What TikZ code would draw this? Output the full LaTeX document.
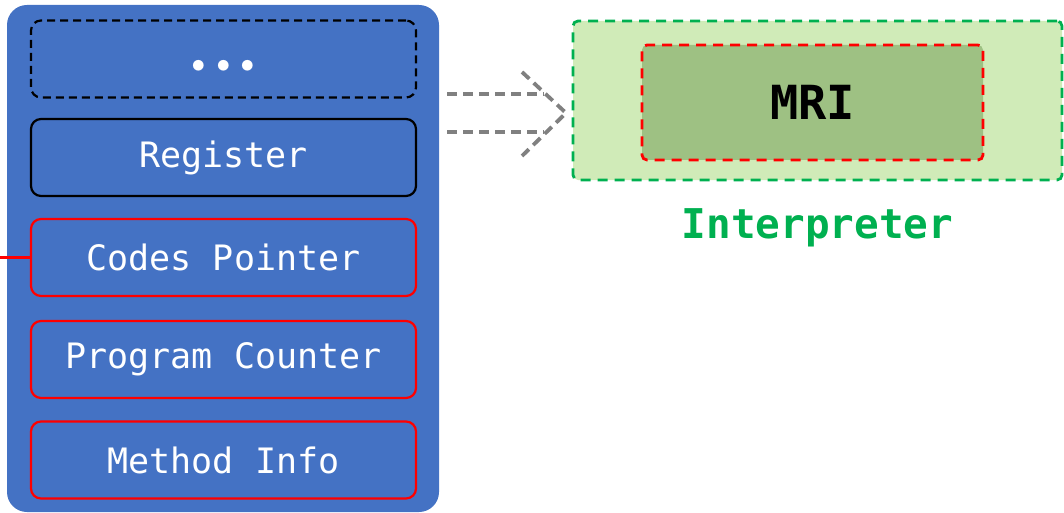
\documentclass[tikz,border=0pt]{standalone}
\usepackage{fontspec}
\setmonofont{DejaVu Sans Mono}
\usepackage{tikz}
\usetikzlibrary{positioning}

\definecolor{frameblue}{HTML}{4472C4}
\definecolor{interpgreen}{HTML}{00B050}
\definecolor{interpfill}{HTML}{D0EBB8}
\definecolor{mrifill}{HTML}{9EC183}
\definecolor{arrowgray}{HTML}{808080}

\begin{document}
\begin{tikzpicture}[x=1pt,y=-1pt]
\tikzstyle{slot}=[rectangle,rounded corners=10pt,minimum width=385pt,minimum height=77pt,
  line width=2.2pt,text=white,font=\ttfamily\fontsize{35}{40}\selectfont,inner sep=0pt]
\tikzstyle{redslot}=[slot,draw=red]
\tikzstyle{gapline}=[arrowgray,line width=3.8pt,dash pattern=on 10pt off 6pt]
\useasboundingbox (0,0) rectangle (1064,513);
% stack frame
\fill[frameblue,rounded corners=20pt] (7,5) rectangle (439,512);
\node[slot,draw=black,dashed,dash pattern=on 8pt off 5pt] (more) at (223.5,59) {};
\node[text=white,font=\fontsize{48}{48}\selectfont,inner sep=0pt] (dots) at (223.5,69) {\textbullet\kern-10pt\textbullet\kern-10pt\textbullet};
\node[slot,draw=black] (reg) at (223.5,157.5) {Register};
\node[redslot] (codes) at (223.5,257.5) {Codes Pointer};
\node[redslot] (pc) at (223.5,359.5) {Program Counter};
\node[redslot] (minfo) at (223.5,460) {Method Info};
\coordinate (codesin) at (codes.west -| 0,0);
\draw[red,line width=2.4pt] (codesin) -- (codes.west);
% interpreter
\node[rectangle,rounded corners=5pt,fill=interpfill,draw=interpgreen,line width=2.8pt,
  dash pattern=on 10pt off 7pt,minimum width=489pt,minimum height=159pt] (interp) at (817.5,100.5) {};
\node[rectangle,rounded corners=5pt,fill=mrifill,draw=red,line width=2.8pt,
  dash pattern=on 10pt off 7pt,minimum width=341pt,minimum height=115pt,
  font=\ttfamily\bfseries\fontsize{47}{50}\selectfont] (mri) at (812.5,102.5) {MRI};
\node[text=interpgreen,font=\ttfamily\bfseries\fontsize{41}{44}\selectfont,below=24pt of interp] (interplabel) {Interpreter};
% dashed arrow
\coordinate (a1) at (447,94);
\coordinate (a2) at (447,132);
\coordinate (b1) at (544,94);
\coordinate (b2) at (544,132);
\coordinate (tip) at (566,113);
\draw[gapline] (a1) -- (b1);
\draw[gapline] (a2) -- (b2);
\draw[gapline] (522,72) -- (tip) -- (522,156);
\end{tikzpicture}
\end{document}
